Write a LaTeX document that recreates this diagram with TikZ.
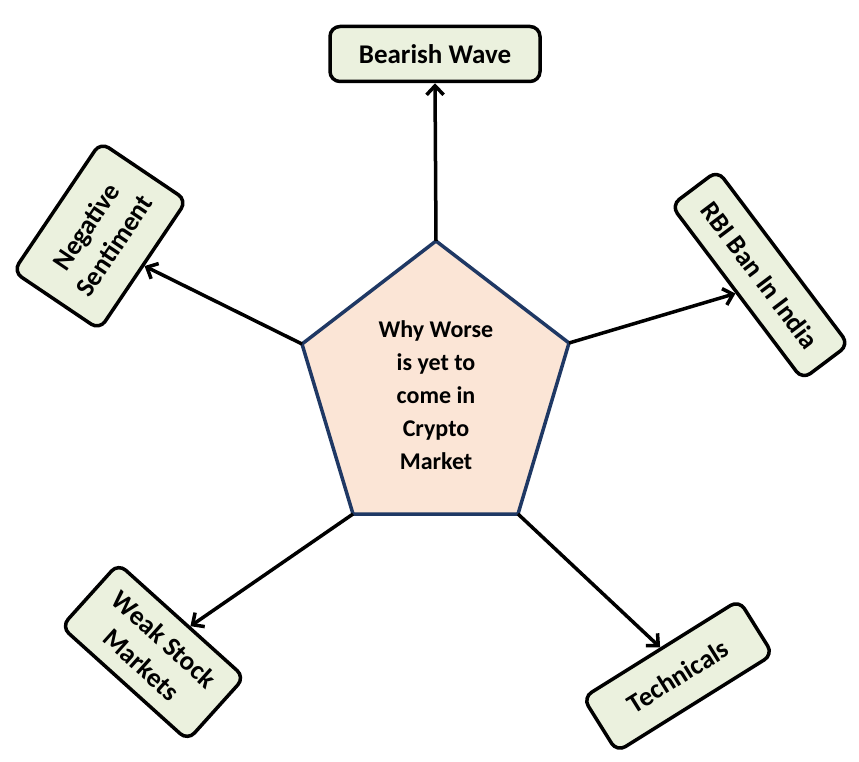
\documentclass[tikz,border=0pt]{standalone}
\usepackage{fontspec}
\setmainfont{Carlito}
\usepackage{tikz}
\usetikzlibrary{arrows.meta, positioning}
\definecolor{boxfill}{HTML}{EBF1DE}
\definecolor{hubfill}{HTML}{FBE5D6}
\definecolor{hubline}{HTML}{1F3864}

\begin{document}
\begin{tikzpicture}[
    x=1pt, y=-1pt,
    cause/.style={rectangle, draw=black, fill=boxfill, line width=3.5pt, rounded corners=10pt,
                  font=\fontsize{27}{34}\selectfont\bfseries, align=center, inner sep=4pt},
    hubtext/.style={font=\fontsize{24}{33}\selectfont\bfseries, align=center},
    link/.style={-{Straight Barb[length=9pt, width=17pt]}, line width=3.5pt},
]
    \useasboundingbox (0,0) rectangle (859,762);

    % Pentagon
    \coordinate (p1) at (436,241);
    \coordinate (p2) at (569,343);
    \coordinate (p3) at (518,514);
    \coordinate (p4) at (353,514);
    \coordinate (p5) at (302,344);
    \draw[draw=hubline, fill=hubfill, line width=3.5pt] (p1) -- (p2) -- (p3) -- (p4) -- (p5) -- cycle;
    \node[hubtext] (hub) at (436,395) {Why Worse\\is yet to\\come in\\Crypto\\Market};

    % Bearish Wave
    \node[cause, minimum width=210pt, minimum height=55pt] (bear) at (435,54) {Bearish Wave};

    % Negative Sentiment
    \node[cause, rotate=56, minimum width=156pt, minimum height=104pt] (neg) at (100,236)
        {Negative\\Sentiment};

    % RBI Ban In India
    \node[cause, rotate=-53, minimum width=218pt, minimum height=58pt] (rbi) at (760,275)
        {RBI Ban In India};

    % Weak Stock Markets
    \node[cause, rotate=-42, minimum width=170pt, minimum height=85pt] (weak) at (153,652)
        {Weak Stock\\Markets};

    % Technicals
    \node[cause, rotate=32, minimum width=184pt, minimum height=64pt] (tech) at (678,676)
        {Technicals};

    % Links
    \draw[link] (p1) -- (bear.south);
    \draw[link] (p5) -- (neg.south);
    \draw[link] (p2) -- (rbi.south);
    \draw[link] (p4) -- (weak);
    \draw[link] (p3) -- (tech.north);

\end{tikzpicture}
\end{document}
